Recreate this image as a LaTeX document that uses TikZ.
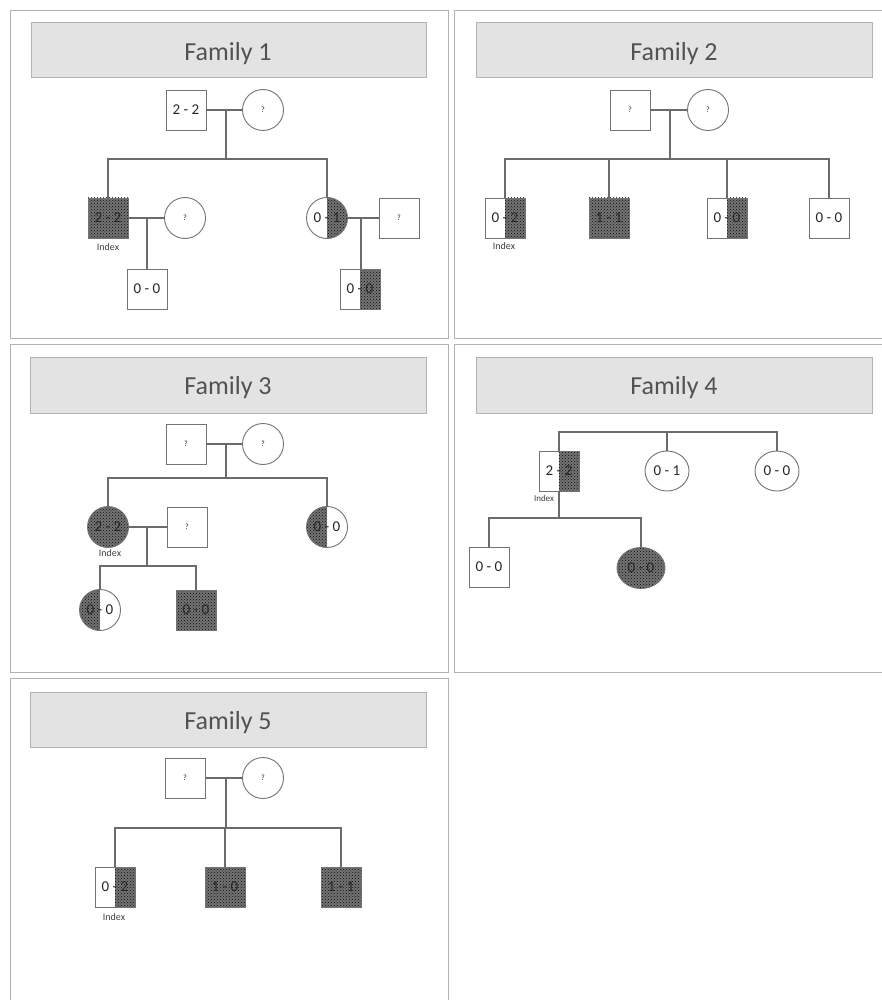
\documentclass[tikz,border=0pt]{standalone}
\usepackage{fontspec}
\setmainfont{Carlito}
\usetikzlibrary{shapes.geometric,patterns}
\tikzset{
  frame/.style={draw=black!30,line width=0.9pt},
  titlebar/.style={draw=black!30,fill=black!11,line width=0.9pt},
  titletext/.style={text=black!68,font=\fontsize{26}{28}\selectfont},
  link/.style={draw=black!58,line width=1.3pt},
  person/.style={draw=black!55,line width=0.9pt,inner sep=0pt,
    font=\fontsize{15}{17}\selectfont,text=black!85},
  male/.style={person,rectangle,minimum width=40pt,minimum height=40pt},
  female/.style={person,ellipse,minimum width=41pt,minimum height=41pt},
  stipple/.style={fill=black!55,postaction={pattern=crosshatch dots,pattern color=black!95}},
  full/.style={path picture={\fill[stipple] (path picture bounding box.south west) rectangle (path picture bounding box.north east);}},
  righthalf/.style={path picture={\fill[stipple] (path picture bounding box.south) rectangle (path picture bounding box.north east);}},
  lefthalf/.style={path picture={\fill[stipple] (path picture bounding box.south west) rectangle (path picture bounding box.north);}},
  idx/.style={font=\fontsize{10}{11}\selectfont,text=black!75,inner sep=0pt},
}
\newcommand{\unk}{{\fontsize{8}{9}\selectfont ?}}
\begin{document}
\begin{tikzpicture}[x=1pt,y=-1pt]
\useasboundingbox (0,0) rectangle (882,1000);
\fill[white] (0,0) rectangle (882,1000);

% panel frames and title bars
\draw[frame] (10,10) rectangle (448,338);
\draw[frame] (454,10) rectangle (886,338);
\draw[frame] (10,344) rectangle (448,672);
\draw[frame] (454,344) rectangle (886,672);
\draw[frame] (10,678) rectangle (448,1004);
\draw[titlebar] (31,22) rectangle (426,77);
\draw[titlebar] (476,22) rectangle (872,77);
\draw[titlebar] (30,357) rectangle (426,413);
\draw[titlebar] (476,357) rectangle (872,413);
\draw[titlebar] (30,692) rectangle (426,747);
\node[titletext] (t1) at (228,54) {Family 1};
\node[titletext] (t2) at (674,54) {Family 2};
\node[titletext] (t3) at (228,388) {Family 3};
\node[titletext] (t4) at (674,388) {Family 4};
\node[titletext] (t5) at (228,723) {Family 5};

% ---------- Family 1 ----------
\node[male] (f1a) at (186,110) {2 - 2};
\node[female] (f1b) at (263,110) {\unk};
\node[male,full] (f1c) at (108,218) {2 - 2};
\node[female] (f1d) at (185,218) {\unk};
\node[male] (f1e) at (147,289) {0 - 0};
\node[female,righthalf] (f1f) at (327,218) {0 - 1};
\node[male] (f1g) at (399,218) {\unk};
\node[male,righthalf] (f1h) at (360,289) {0 - 0};
\node[idx] (i1) at (108,247) {Index};
\coordinate (m1) at (226,110);
\coordinate (s1) at (226,159);
\coordinate (m1b) at (147,218);
\coordinate (m1c) at (361,218);
\draw[link] (f1a) -- (f1b);
\draw[link] (m1) -- (s1);
\draw[link] (f1c.north) |- (s1) -| (f1f.north);
\draw[link] (f1c) -- (f1d);
\draw[link] (m1b) -- (f1e.north);
\draw[link] (f1f) -- (f1g);
\draw[link] (m1c) -- (m1c |- f1h.north);

% ---------- Family 2 ----------
\node[male] (f2a) at (630,110) {\unk};
\node[female] (f2b) at (708,110) {\unk};
\node[male,righthalf] (f2c) at (505,218) {0 - 2};
\node[male,full] (f2d) at (609,218) {1 - 1};
\node[male,righthalf] (f2e) at (727,218) {0 - 0};
\node[male] (f2f) at (829,218) {0 - 0};
\node[idx] (i2) at (504,246) {Index};
\coordinate (m2) at (670,110);
\coordinate (s2) at (670,159);
\draw[link] (f2a) -- (f2b);
\draw[link] (m2) -- (s2);
\draw[link] (f2c.north) |- (s2) -| (f2f.north);
\draw[link] (f2d.north) -- (f2d.north |- s2);
\draw[link] (f2e.north) -- (f2e.north |- s2);

% ---------- Family 3 ----------
\node[male] (f3a) at (186,444) {\unk};
\node[female] (f3b) at (263,444) {\unk};
\node[female,full] (f3c) at (108,527) {2 - 2};
\node[male] (f3d) at (187,527) {\unk};
\node[female,lefthalf] (f3e) at (327,527) {0 - 0};
\node[female,lefthalf] (f3f) at (100,610) {0 - 0};
\node[male,full] (f3g) at (196,610) {0 - 0};
\node[idx] (i3) at (110,553) {Index};
\coordinate (m3) at (226,444);
\coordinate (s3) at (226,478);
\coordinate (m3b) at (147,527);
\coordinate (s3b) at (147,566);
\draw[link] (f3a) -- (f3b);
\draw[link] (m3) -- (s3);
\draw[link] (f3c.north) |- (s3) -| (f3e.north);
\draw[link] (f3c) -- (f3d);
\draw[link] (m3b) -- (s3b);
\draw[link] (f3f.north) |- (s3b) -| (f3g.north);

% ---------- Family 4 ----------
\node[male,righthalf] (f4a) at (559,471) {2 - 2};
\node[female,minimum width=44pt,minimum height=40pt] (f4b) at (667,471) {0 - 1};
\node[female,minimum width=44pt,minimum height=40pt] (f4c) at (777,471) {0 - 0};
\node[male] (f4g) at (489,567) {0 - 0};
\node[female,full,minimum width=48pt,minimum height=41pt] (f4h) at (641,568) {0 - 0};
\node[idx,font=\fontsize{9}{10}\selectfont] (i4) at (544,498) {Index};
\coordinate (t4top) at (559,432);
\coordinate (s4) at (559,518);
\draw[link] (f4a.north) -- (t4top) -| (f4c.north);
\draw[link] (f4b.north) -- (f4b.north |- t4top);
\draw[link] (f4a.south) -- (s4);
\draw[link] (f4g.north) |- (s4) -| (f4h.north);

% ---------- Family 5 ----------
\node[male] (f5a) at (185,778) {\unk};
\node[female] (f5b) at (263,778) {\unk};
\node[male,righthalf] (f5c) at (115,887) {0 - 2};
\node[male,full] (f5d) at (225,887) {1 - 0};
\node[male,full] (f5e) at (341,887) {1 - 1};
\node[idx] (i5) at (114,917) {Index};
\coordinate (m5) at (226,778);
\coordinate (s5) at (226,828);
\draw[link] (f5a) -- (f5b);
\draw[link] (m5) -- (s5);
\draw[link] (f5c.north) |- (s5) -| (f5e.north);
\draw[link] (f5d.north) -- (f5d.north |- s5);
\end{tikzpicture}
\end{document}
